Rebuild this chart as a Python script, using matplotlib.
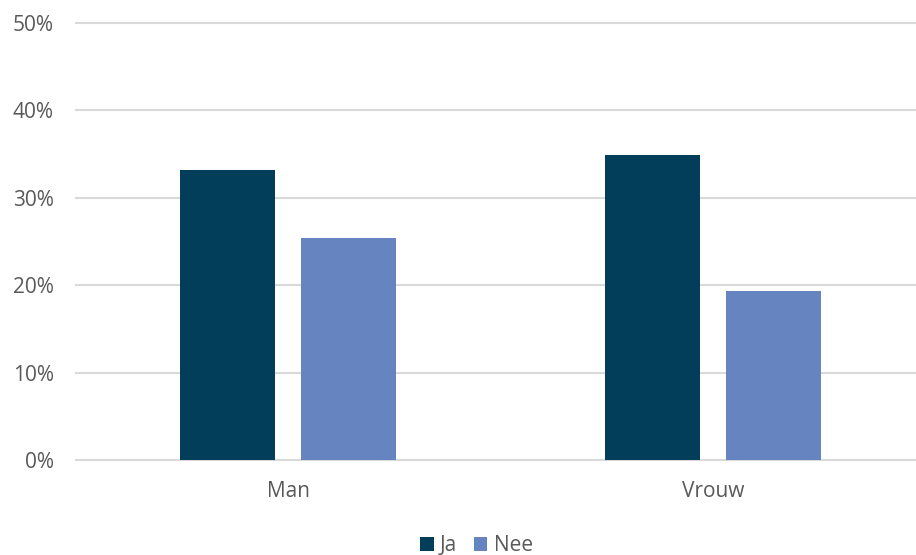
import matplotlib.pyplot as plt
import numpy as np

# data
categories = ['Man', 'Vrouw']
ja = [33.2, 34.9]
nee = [25.4, 19.3]
series_labels = ['Ja', 'Nee']
y_ticks = [0, 10, 20, 30, 40, 50]

plt.rcParams['font.family'] = ['Open Sans', 'DejaVu Sans']

fig = plt.figure(figsize=(9.16, 5.55), dpi=100)
ax = fig.add_axes([0.083, 0.1712, 0.9268, 0.7874])

x = np.arange(len(categories))
w = 0.224
off = 0.1425
ax.bar(x - off, ja, width=w, color='#023D5A', label=series_labels[0], zorder=3)
ax.bar(x + off, nee, width=w, color='#6685C0', label=series_labels[1], zorder=3)

ax.set_xlim(-0.5, 1.5)
ax.set_ylim(0, 50)
ax.set_yticks(y_ticks)
ax.set_yticklabels([f'{t}%' for t in y_ticks])
ax.set_xticks(x)
ax.set_xticklabels(categories)
ax.tick_params(axis='both', length=0, labelsize=15, labelcolor='#595959')
ax.tick_params(axis='y', pad=16)
ax.tick_params(axis='x', pad=15)
ax.grid(axis='y', color='#D9D9D9', linewidth=1.5, zorder=0)
for gl in ax.get_ygridlines():
    gl.set_clip_on(False)
for s in ax.spines.values():
    s.set_visible(False)

fig.legend(loc='lower center', bbox_to_anchor=(0.52, -0.036), ncol=2, frameon=False,
           fontsize=15, labelcolor='#595959', handlelength=0.65, handleheight=0.65,
           handletextpad=0.3, columnspacing=0.8)

plt.savefig('out.png', dpi=100)
plt.close()
